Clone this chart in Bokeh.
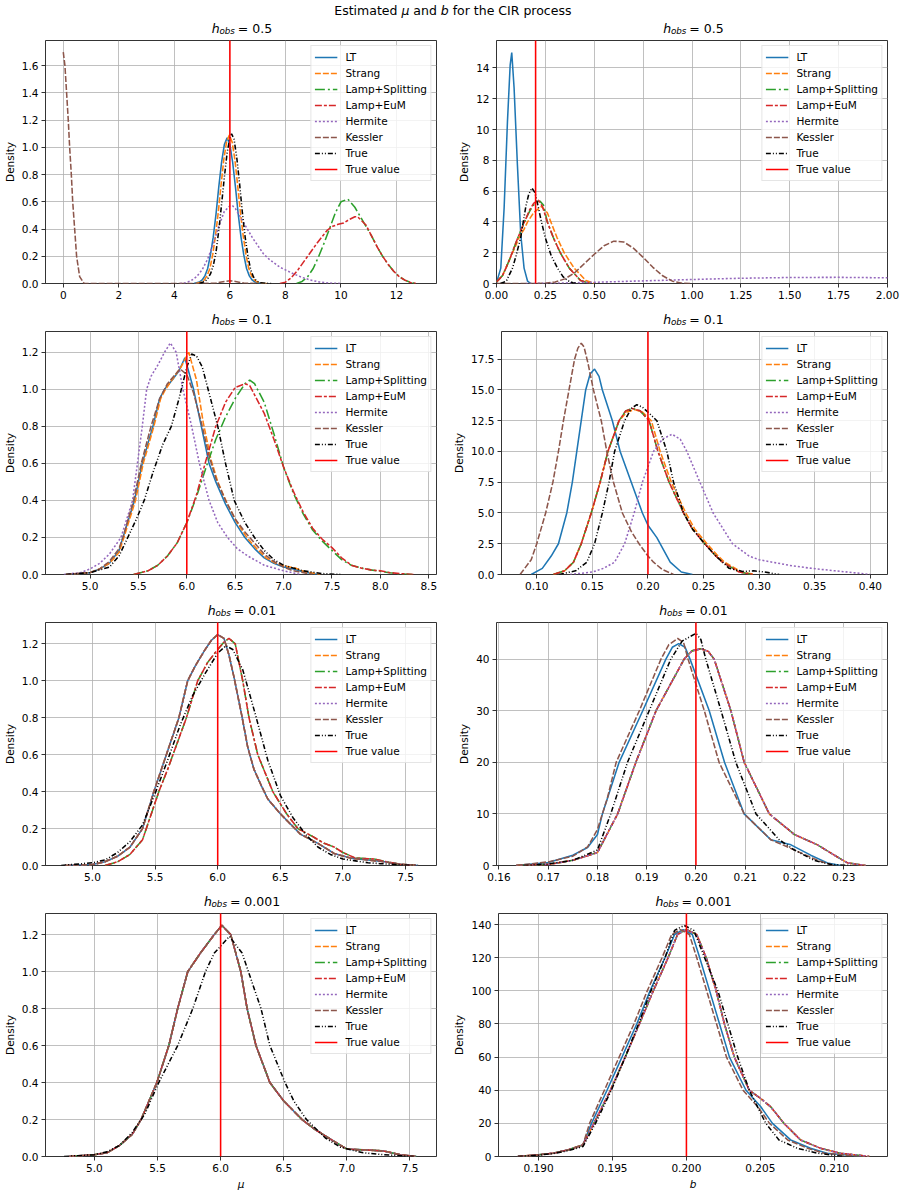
from bokeh.plotting import figure
from bokeh.models import (Range1d, FixedTicker, PrintfTickFormatter, Legend,
                          LegendItem, Label)
from bokeh.layouts import column, row
from bokeh.embed import file_html
from bokeh.resources import INLINE

# ---------------------------------------------------------------- data ----
series_names = ["LT", "Strang", "Lamp+Splitting", "Lamp+EuM", "Hermite", "Kessler", "True"]
true_mu = 6.0
true_b = 0.2
h_obs_labels = ["0.5", "0.1", "0.01", "0.001"]

# --- mu, h_obs = 0.5
mu_h05_LT_x = [4.7, 4.9, 5.0, 5.1, 5.2, 5.3, 5.4, 5.5, 5.6, 5.7, 5.8, 5.9, 6.0, 6.1, 6.2, 6.3, 6.4, 6.5, 6.6, 6.7, 6.8, 6.9, 7.1, 7.3]
mu_h05_LT_y = [0, 0.011, 0.026, 0.056, 0.11, 0.21, 0.34, 0.51, 0.71, 0.89, 1.02, 1.07, 1.02, 0.89, 0.71, 0.51, 0.34, 0.21, 0.11, 0.056, 0.026, 0.011, 0.002, 0]
mu_h05_Strang_x = [4.78, 4.98, 5.08, 5.18, 5.28, 5.38, 5.48, 5.58, 5.68, 5.78, 5.88, 5.98, 6.08, 6.18, 6.28, 6.38, 6.48, 6.58, 6.68, 6.78, 6.88, 6.98, 7.18, 7.38]
mu_h05_Strang_y = [0, 0.011, 0.027, 0.057, 0.11, 0.21, 0.35, 0.52, 0.72, 0.91, 1.04, 1.09, 1.04, 0.91, 0.72, 0.52, 0.35, 0.21, 0.11, 0.057, 0.027, 0.011, 0.002, 0]
mu_h05_Split_x = [8.4, 8.6, 8.8, 9.0, 9.2, 9.4, 9.6, 9.8, 10.0, 10.25, 10.5, 10.7, 10.9, 11.1, 11.3, 11.5, 11.7, 11.9, 12.1, 12.3, 12.5, 12.7]
mu_h05_Split_y = [0, 0.015, 0.05, 0.11, 0.2, 0.3, 0.41, 0.52, 0.6, 0.62, 0.56, 0.49, 0.42, 0.35, 0.27, 0.2, 0.14, 0.09, 0.05, 0.025, 0.008, 0]
mu_h05_EuM_x = [7.8, 8.0, 8.2, 8.45, 8.8, 9.15, 9.5, 9.7, 9.9, 10.1, 10.3, 10.5, 10.6, 10.9, 11.1, 11.3, 11.5, 11.7, 11.9, 12.1, 12.3, 12.5, 12.7]
mu_h05_EuM_y = [0, 0.01, 0.04, 0.1, 0.2, 0.3, 0.39, 0.42, 0.435, 0.445, 0.47, 0.49, 0.49, 0.43, 0.35, 0.27, 0.2, 0.14, 0.09, 0.05, 0.025, 0.008, 0]
mu_h05_Hermite_x = [4.2, 4.4, 4.6, 4.8, 5.0, 5.2, 5.4, 5.6, 5.8, 6.0, 6.1, 6.2, 6.4, 6.6, 6.8, 7.0, 7.2, 7.4, 7.6, 7.8, 8.0, 8.3, 8.6, 8.9, 9.2, 9.6, 10.0]
mu_h05_Hermite_y = [0, 0.005, 0.02, 0.05, 0.1, 0.18, 0.29, 0.42, 0.53, 0.57, 0.57, 0.55, 0.48, 0.41, 0.34, 0.28, 0.22, 0.18, 0.15, 0.12, 0.1, 0.07, 0.045, 0.025, 0.012, 0.003, 0]
mu_h05_Kessler_x = [0.0, 0.06, 0.12, 0.18, 0.23, 0.29, 0.34, 0.41, 0.48, 0.59, 0.75, 1.0, 2.0, 3.0, 4.0, 5.0, 5.5, 5.8, 6.0, 6.2, 6.5, 7.0]
mu_h05_Kessler_y = [1.70, 1.6, 1.4, 1.2, 1.0, 0.8, 0.6, 0.4, 0.2, 0.05, 0.0, 0, 0, 0, 0, 0, 0.003, 0.015, 0.02, 0.015, 0.003, 0]
mu_h05_True_x = [4.9, 5.1, 5.2, 5.3, 5.4, 5.5, 5.6, 5.7, 5.8, 5.9, 6.0, 6.06, 6.15, 6.25, 6.35, 6.45, 6.55, 6.65, 6.75, 6.85, 6.95, 7.1, 7.3, 7.5]
mu_h05_True_y = [0, 0.015, 0.035, 0.07, 0.13, 0.23, 0.39, 0.58, 0.78, 0.96, 1.07, 1.10, 1.06, 0.92, 0.73, 0.52, 0.34, 0.2, 0.1, 0.048, 0.02, 0.005, 0.001, 0]

# --- b, h_obs = 0.5
b_h05_LT_x = [0.0, 0.022, 0.039, 0.056, 0.07, 0.078, 0.09, 0.107, 0.124, 0.141, 0.159, 0.175]
b_h05_LT_y = [0.05, 1.0, 4.9, 10.5, 14.2, 15.0, 12.7, 7.7, 3.2, 1.0, 0.15, 0]
b_h05_Strang_x = [0.0, 0.03, 0.048, 0.065, 0.082, 0.1, 0.116, 0.14, 0.159, 0.19, 0.23, 0.26, 0.278, 0.309, 0.346, 0.397, 0.457, 0.5]
b_h05_Strang_y = [0.1, 0.5, 1.0, 1.5, 2.0, 2.5, 3.0, 3.5, 4.0, 4.6, 5.0, 4.6, 4.0, 3.0, 2.0, 1.0, 0.2, 0]
b_h05_Split_x = [0.0, 0.03, 0.048, 0.065, 0.08, 0.095, 0.11, 0.13, 0.15, 0.17, 0.19, 0.21, 0.222, 0.24, 0.26, 0.29, 0.326, 0.372, 0.43, 0.48]
b_h05_Split_y = [0.1, 0.5, 1.0, 1.5, 2.0, 2.5, 3.0, 3.6, 4.2, 4.7, 5.1, 5.3, 5.35, 5.1, 4.0, 3.0, 2.0, 1.0, 0.2, 0]
b_h05_EuM_x = [0.0, 0.03, 0.048, 0.065, 0.08, 0.095, 0.11, 0.13, 0.15, 0.17, 0.19, 0.205, 0.215, 0.235, 0.26, 0.29, 0.326, 0.372, 0.43, 0.48]
b_h05_EuM_y = [0.1, 0.5, 1.0, 1.5, 2.0, 2.5, 3.0, 3.6, 4.2, 4.8, 5.2, 5.35, 5.4, 5.0, 4.0, 3.0, 2.0, 1.0, 0.2, 0]
b_h05_Hermite_x = [0.15, 0.3, 0.5, 0.75, 1.0, 1.25, 1.5, 1.75, 2.0, 2.1]
b_h05_Hermite_y = [0.0, 0.02, 0.08, 0.17, 0.26, 0.34, 0.39, 0.40, 0.37, 0.36]
b_h05_Kessler_x = [0.0, 0.1, 0.2, 0.25, 0.3, 0.35, 0.4, 0.45, 0.5, 0.55, 0.6, 0.65, 0.7, 0.75, 0.8, 0.85, 0.9, 0.95, 1.0]
b_h05_Kessler_y = [0.0, 0.0, 0.0, 0.02, 0.1, 0.3, 0.7, 1.3, 1.9, 2.45, 2.75, 2.7, 2.3, 1.7, 1.05, 0.5, 0.15, 0.02, 0]
b_h05_True_x = [0.02, 0.05, 0.082, 0.1, 0.124, 0.15, 0.165, 0.181, 0.197, 0.213, 0.23, 0.249, 0.28, 0.312, 0.34, 0.363, 0.39, 0.414]
b_h05_True_y = [0, 0.15, 1.0, 1.8, 3.0, 5.0, 5.8, 6.2, 5.9, 5.0, 4.0, 3.0, 1.8, 1.0, 0.45, 0.2, 0.05, 0]

# --- mu, h_obs = 0.1
mu_h01_LT_x = [4.75, 5.0, 5.1, 5.2, 5.3, 5.34, 5.46, 5.54, 5.65, 5.72, 5.77, 5.85, 5.92, 5.98, 6.07, 6.15, 6.23, 6.3, 6.4, 6.5, 6.6, 6.7, 6.8, 6.9, 7.0, 7.1, 7.2, 7.35]
mu_h01_LT_y = [0, 0.01, 0.03, 0.06, 0.13, 0.2, 0.4, 0.6, 0.8, 0.95, 1.0, 1.05, 1.1, 1.17, 1.0, 0.8, 0.6, 0.5, 0.38, 0.28, 0.2, 0.14, 0.09, 0.06, 0.04, 0.03, 0.015, 0]
mu_h01_Strang_x = [4.75, 5.0, 5.1, 5.2, 5.3, 5.35, 5.47, 5.55, 5.66, 5.73, 5.78, 5.86, 5.94, 6.02, 6.1, 6.17, 6.25, 6.32, 6.42, 6.52, 6.62, 6.72, 6.82, 6.92, 7.02, 7.12, 7.22, 7.38]
mu_h01_Strang_y = [0, 0.01, 0.03, 0.06, 0.12, 0.2, 0.4, 0.6, 0.8, 0.95, 1.0, 1.06, 1.12, 1.2, 1.05, 0.82, 0.62, 0.5, 0.38, 0.28, 0.2, 0.14, 0.09, 0.06, 0.045, 0.035, 0.015, 0]
mu_h01_Lamp_x = [5.45, 5.6, 5.7, 5.8, 5.9, 6.0, 6.1, 6.2, 6.3, 6.4, 6.5, 6.6, 6.65, 6.7, 6.8, 6.9, 7.0, 7.1, 7.2, 7.3, 7.4, 7.5, 7.6, 7.7, 7.8, 7.9, 8.0, 8.1, 8.2, 8.35]
mu_h01_Split_y = [0, 0.02, 0.05, 0.1, 0.17, 0.28, 0.42, 0.58, 0.73, 0.85, 0.95, 1.03, 1.05, 1.03, 0.93, 0.76, 0.58, 0.44, 0.33, 0.24, 0.18, 0.13, 0.08, 0.05, 0.035, 0.025, 0.017, 0.009, 0.003, 0]
mu_h01_EuM_y = [0, 0.02, 0.05, 0.1, 0.17, 0.28, 0.43, 0.62, 0.8, 0.93, 1.01, 1.03, 1.02, 0.97, 0.87, 0.73, 0.58, 0.45, 0.34, 0.25, 0.19, 0.145, 0.09, 0.05, 0.035, 0.025, 0.02, 0.01, 0.005, 0]
mu_h01_Hermite_x = [4.73, 4.9, 5.0, 5.1, 5.2, 5.32, 5.44, 5.49, 5.54, 5.585, 5.63, 5.7, 5.77, 5.83, 5.89, 5.96, 6.05, 6.13, 6.23, 6.32, 6.42, 6.52, 6.63, 6.8, 7.0, 7.18]
mu_h01_Hermite_y = [0, 0.01, 0.03, 0.06, 0.11, 0.2, 0.4, 0.6, 0.8, 1.0, 1.07, 1.13, 1.2, 1.25, 1.2, 1.0, 0.8, 0.6, 0.4, 0.28, 0.2, 0.14, 0.1, 0.05, 0.02, 0]
mu_h01_Kessler_x = [4.75, 5.0, 5.1, 5.2, 5.3, 5.34, 5.45, 5.53, 5.63, 5.72, 5.8, 5.93, 6.0, 6.07, 6.15, 6.23, 6.3, 6.4, 6.5, 6.6, 6.7, 6.8, 6.9, 7.0, 7.1, 7.3]
mu_h01_Kessler_y = [0, 0.01, 0.03, 0.07, 0.14, 0.2, 0.4, 0.6, 0.8, 0.95, 1.03, 1.11, 1.08, 0.98, 0.82, 0.64, 0.52, 0.4, 0.3, 0.23, 0.17, 0.11, 0.07, 0.04, 0.02, 0]
mu_h01_True_x = [4.75, 5.0, 5.2, 5.3, 5.39, 5.48, 5.56, 5.65, 5.75, 5.84, 5.92, 6.0, 6.05, 6.1, 6.16, 6.22, 6.32, 6.4, 6.49, 6.6, 6.7, 6.8, 6.9, 7.0, 7.2, 7.4, 7.6]
mu_h01_True_y = [0, 0.01, 0.04, 0.1, 0.2, 0.3, 0.4, 0.55, 0.7, 0.8, 0.95, 1.12, 1.19, 1.18, 1.12, 1.0, 0.8, 0.6, 0.4, 0.28, 0.2, 0.13, 0.08, 0.05, 0.02, 0.005, 0]

# --- b, h_obs = 0.1
b_h01_LT_x = [0.095, 0.105, 0.113, 0.1195, 0.127, 0.132, 0.136, 0.14, 0.144, 0.148, 0.152, 0.156, 0.159, 0.168, 0.175, 0.185, 0.195, 0.2, 0.208, 0.214, 0.22, 0.23, 0.24]
b_h01_LT_y = [0, 0.5, 1.5, 2.5, 5, 7.5, 10, 12.5, 15, 16.3, 16.7, 16.1, 15, 12.5, 10, 7.5, 5, 4, 3, 2, 1, 0.2, 0]
b_h01_Strang_x = [0.115, 0.125, 0.133, 0.14, 0.149, 0.157, 0.164, 0.174, 0.181, 0.188, 0.195, 0.203, 0.211, 0.221, 0.234, 0.242, 0.253, 0.262, 0.269, 0.284, 0.296]
b_h01_Strang_y = [0, 0.3, 1, 2.5, 5, 7.5, 10, 12.5, 13.2, 13.4, 13.2, 12.5, 10, 7.5, 5, 3.7, 2.5, 1.6, 1, 0.2, 0]
b_h01_Lamp_x = [0.115, 0.125, 0.133, 0.14, 0.149, 0.157, 0.164, 0.174, 0.18, 0.186, 0.193, 0.201, 0.209, 0.219, 0.232, 0.24, 0.251, 0.26, 0.267, 0.282, 0.294]
b_h01_Lamp_y = [0, 0.3, 1, 2.5, 5, 7.5, 10, 12.5, 13.3, 13.5, 13.3, 12.5, 10, 7.5, 5, 3.7, 2.5, 1.6, 1, 0.2, 0]
b_h01_Hermite_x = [0.13, 0.15, 0.16, 0.17, 0.179, 0.1876, 0.195, 0.205, 0.213, 0.2216, 0.229, 0.235, 0.2467, 0.2586, 0.276, 0.291, 0.3, 0.312, 0.33, 0.347, 0.368, 0.385, 0.4]
b_h01_Hermite_y = [0, 0.2, 0.5, 1, 2.5, 5, 7.5, 10, 11.0, 11.4, 11.0, 10, 7.5, 5, 2.5, 1.5, 1.2, 1.0, 0.7, 0.5, 0.3, 0.15, 0]
b_h01_Kessler_x = [0.085, 0.095, 0.1, 0.108, 0.1145, 0.1195, 0.124, 0.129, 0.134, 0.137, 0.14, 0.1425, 0.146, 0.151, 0.158, 0.163, 0.169, 0.177, 0.185, 0.192, 0.2, 0.205, 0.213, 0.223]
b_h01_Kessler_y = [0, 1.2, 2.5, 5, 7.5, 10, 12.5, 15, 17.5, 18.4, 18.8, 18.5, 17.2, 15, 12.5, 10, 7.5, 5, 3.5, 2.5, 1.5, 1.0, 0.4, 0]
b_h01_True_x = [0.12, 0.135, 0.145, 0.152, 0.159, 0.165, 0.17, 0.179, 0.185, 0.19, 0.195, 0.2, 0.208, 0.217, 0.223, 0.232, 0.24, 0.251, 0.26, 0.273, 0.285, 0.295, 0.305, 0.318]
b_h01_True_y = [0, 0.3, 1, 2.5, 5, 7.5, 10, 12.5, 13.5, 13.8, 13.6, 13.2, 12.5, 10, 7.5, 5, 3.7, 2.5, 1.6, 0.5, 0.25, 0.3, 0.2, 0]

# --- mu, h_obs = 0.01
mu_h001_A_x = [4.78, 5.0, 5.1, 5.2, 5.3, 5.4, 5.49, 5.6, 5.69, 5.76, 5.82, 5.9, 5.95, 6.0, 6.05, 6.09, 6.13, 6.19, 6.24, 6.29, 6.35, 6.4, 6.5, 6.66, 6.8, 6.93, 7.06, 7.2, 7.33, 7.46, 7.6]
mu_h001_A_y = [0, 0.005, 0.02, 0.05, 0.1, 0.2, 0.4, 0.62, 0.8, 1.0, 1.08, 1.17, 1.22, 1.25, 1.23, 1.14, 1.02, 0.82, 0.64, 0.52, 0.43, 0.36, 0.28, 0.17, 0.12, 0.065, 0.04, 0.03, 0.02, 0.007, 0]
mu_h001_Lamp_x = [5.1, 5.2, 5.3, 5.4, 5.53, 5.6, 5.75, 5.84, 5.92, 6.0, 6.05, 6.09, 6.14, 6.2, 6.25, 6.32, 6.44, 6.55, 6.64, 6.75, 6.85, 6.93, 7.0, 7.1, 7.25, 7.35, 7.45, 7.55]
mu_h001_Lamp_y = [0, 0.02, 0.06, 0.14, 0.4, 0.52, 0.8, 1.0, 1.1, 1.17, 1.21, 1.23, 1.2, 1.0, 0.8, 0.6, 0.4, 0.28, 0.2, 0.16, 0.12, 0.1, 0.07, 0.04, 0.035, 0.02, 0.007, 0]
mu_h001_True_x = [4.75, 5.0, 5.1, 5.2, 5.3, 5.4, 5.5, 5.6, 5.7, 5.8, 5.9, 6.0, 6.066, 6.12, 6.2, 6.3, 6.4, 6.5, 6.6, 6.7, 6.8, 6.9, 7.0, 7.1, 7.2, 7.3, 7.45, 7.6]
mu_h001_True_y = [0, 0.015, 0.03, 0.07, 0.13, 0.22, 0.39, 0.57, 0.76, 0.92, 1.04, 1.15, 1.19, 1.17, 1.06, 0.82, 0.57, 0.38, 0.26, 0.17, 0.1, 0.06, 0.035, 0.025, 0.015, 0.01, 0.004, 0]

# --- b, h_obs = 0.01
b_h001_LT_x = [0.1635, 0.17, 0.175, 0.178, 0.18, 0.181, 0.1844, 0.1892, 0.1939, 0.1952, 0.1965, 0.1978, 0.1988, 0.2027, 0.2058, 0.2098, 0.2152, 0.2193, 0.2233, 0.2267, 0.2294]
b_h001_LT_y = [0, 0.6, 2, 3.5, 6, 10, 20, 30, 40, 42.3, 43, 42.3, 40, 30, 20, 10, 5, 4, 2, 0.5, 0]
b_h001_Lamp_x = [0.1635, 0.17, 0.175, 0.18, 0.1841, 0.1878, 0.1919, 0.1976, 0.1992, 0.201, 0.2025, 0.2037, 0.2071, 0.2098, 0.2149, 0.22, 0.2247, 0.2281, 0.2308, 0.2345]
b_h001_Lamp_y = [0, 0.2, 1, 2.5, 10, 20, 30, 40, 41.6, 42, 41.5, 40, 30, 20, 10, 6, 4, 2, 0.5, 0]
b_h001_Kessler_x = [0.1635, 0.17, 0.175, 0.178, 0.18, 0.182, 0.1838, 0.1885, 0.1929, 0.1945, 0.1963, 0.1975, 0.1984, 0.2017, 0.2047, 0.2098, 0.2152, 0.22, 0.2247, 0.228]
b_h001_Kessler_y = [0, 0.7, 1.8, 3.6, 7, 13, 20, 30, 40, 42.8, 44, 43.2, 40, 30, 20, 10, 5, 3, 1, 0]
b_h001_True_x = [0.165, 0.17, 0.175, 0.18, 0.1827, 0.1861, 0.1905, 0.1949, 0.1972, 0.2, 0.201, 0.202, 0.2051, 0.2081, 0.2122, 0.2169, 0.22, 0.224, 0.2274, 0.2315]
b_h001_True_y = [0, 0.3, 1, 3, 10, 20, 30, 40, 43.5, 45, 43.8, 40, 30, 20, 10, 5, 3, 1, 0.2, 0]

# --- mu, h_obs = 0.001
mu_h0001_A_x = [4.8, 5.0, 5.1, 5.2, 5.3, 5.37, 5.495, 5.59, 5.66, 5.74, 5.84, 5.95, 6.01, 6.08, 6.16, 6.21, 6.28, 6.39, 6.5, 6.645, 6.74, 6.855, 7.0, 7.16, 7.29, 7.42, 7.55]
mu_h0001_A_y = [0, 0.01, 0.02, 0.06, 0.12, 0.2, 0.4, 0.6, 0.8, 1.0, 1.1, 1.2, 1.25, 1.2, 1.0, 0.8, 0.6, 0.4, 0.3, 0.2, 0.15, 0.1, 0.04, 0.035, 0.03, 0.01, 0]
mu_h0001_True_x = [4.76, 5.0, 5.1, 5.2, 5.3, 5.4, 5.51, 5.66, 5.78, 5.88, 5.95, 6.07, 6.17, 6.22, 6.32, 6.39, 6.51, 6.58, 6.68, 6.83, 6.95, 7.13, 7.29, 7.53]
mu_h0001_True_y = [0, 0.01, 0.025, 0.06, 0.13, 0.23, 0.4, 0.6, 0.8, 1.0, 1.1, 1.19, 1.1, 1.0, 0.8, 0.6, 0.4, 0.3, 0.2, 0.1, 0.05, 0.02, 0.01, 0]

# --- b, h_obs = 0.001
b_h0001_LT_x = [0.1886, 0.19, 0.191, 0.192, 0.193, 0.19358, 0.19463, 0.19564, 0.19664, 0.19754, 0.19855, 0.1992, 0.19978, 0.2004, 0.2009, 0.20157, 0.20224, 0.20291, 0.20403, 0.20503, 0.20582, 0.20705, 0.20839, 0.20951, 0.21197]
b_h0001_LT_y = [0, 1, 2, 4, 7, 20, 40, 60, 80, 100, 120, 134, 137, 134, 120, 100, 80, 60, 40, 30, 20, 10, 5, 2, 0]
b_h0001_Kessler_x = [0.1886, 0.19, 0.191, 0.192, 0.193, 0.19345, 0.19445, 0.19545, 0.19645, 0.19735, 0.19835, 0.199, 0.1996, 0.2002, 0.2007, 0.20137, 0.20204, 0.20271, 0.20383, 0.20483, 0.20562, 0.20685, 0.20819, 0.20931, 0.2118]
b_h0001_Kessler_y = [0, 1, 2, 4, 7, 20, 40, 60, 80, 100, 120, 134, 137, 134, 120, 100, 80, 60, 40, 30, 20, 10, 5, 2, 0]
b_h0001_Lamp_x = [0.1886, 0.19, 0.191, 0.192, 0.193, 0.19374, 0.19486, 0.19586, 0.19682, 0.19776, 0.19876, 0.1994, 0.2, 0.2007, 0.20134, 0.20201, 0.20257, 0.20324, 0.20425, 0.20503, 0.2057, 0.2066, 0.20772, 0.20906, 0.2104, 0.21237]
b_h0001_Lamp_y = [0, 1, 2, 4, 7, 20, 40, 60, 80, 100, 120, 134, 137, 134, 120, 100, 80, 60, 40, 35, 30, 20, 10, 5, 2, 0]
b_h0001_True_x = [0.1886, 0.19, 0.191, 0.192, 0.193, 0.19385, 0.19492, 0.19586, 0.19676, 0.1976, 0.19855, 0.1992, 0.19985, 0.2005, 0.20123, 0.20213, 0.2028, 0.20347, 0.20425, 0.20537, 0.20626, 0.20749, 0.20884, 0.21063]
b_h0001_True_y = [0, 0.8, 1.8, 3.5, 6, 20, 40, 60, 80, 100, 120, 136.5, 139.5, 136.5, 120, 100, 80, 60, 40, 20, 10, 5, 2, 0]

# axis ticks
ticks_mu_h05 = [0, 2, 4, 6, 8, 10, 12]
ticks_b_h05 = [0.0, 0.25, 0.5, 0.75, 1.0, 1.25, 1.5, 1.75, 2.0]
ticks_mu_h01 = [5.0, 5.5, 6.0, 6.5, 7.0, 7.5, 8.0, 8.5]
ticks_b_h01 = [0.10, 0.15, 0.20, 0.25, 0.30, 0.35, 0.40]
ticks_mu_small = [5.0, 5.5, 6.0, 6.5, 7.0, 7.5]
ticks_b_h001 = [0.16, 0.17, 0.18, 0.19, 0.20, 0.21, 0.22, 0.23]
ticks_b_h0001 = [0.190, 0.195, 0.200, 0.205, 0.210]
yticks_dens_small = [0.0, 0.2, 0.4, 0.6, 0.8, 1.0, 1.2]
yticks_mu_h05 = [0.0, 0.2, 0.4, 0.6, 0.8, 1.0, 1.2, 1.4, 1.6]
yticks_b_h05 = [0, 2, 4, 6, 8, 10, 12, 14]
yticks_b_h01 = [0.0, 2.5, 5.0, 7.5, 10.0, 12.5, 15.0, 17.5]
yticks_b_h001 = [0, 10, 20, 30, 40]
yticks_b_h0001 = [0, 20, 40, 60, 80, 100, 120, 140]

# ------------------------------------------------------------- styling ----
FONT = "DejaVu Sans"
COLORS = {"LT": "#1f77b4", "Strang": "#ff7f0e", "Lamp+Splitting": "#2ca02c",
          "Lamp+EuM": "#d62728", "Hermite": "#9467bd", "Kessler": "#8c564b",
          "True": "#000000"}
DASHES = {"LT": "solid", "Strang": "6 2", "Lamp+Splitting": "10 3 2 3",
          "Lamp+EuM": "7 2 3 2", "Hermite": "2 2", "Kessler": "6 2",
          "True": "5 2 1 2 1 2"}
LW = 1.55
W_LEFT, W_RIGHT = 450, 455
BL_LEFT, BR_LEFT = 44, 14
BL_RIGHT, BR_RIGHT = 46, 18
FRAME_H = 243
BASE_FIX = 5.5   # rendered baseline sits lower than requested; compensate
CHAR_W = {"=": 0.838, " ": 0.318, ".": 0.318}


def text_w(s, size):
    return sum(CHAR_W.get(c, 0.636) for c in s) * size


def label(fig, x, y, text, size="12.5px", style="normal"):
    fig.add_layout(Label(x=x, y=y + BASE_FIX, text=text, text_font=FONT, text_font_size=size,
                         text_font_style=style, text_color="black",
                         text_baseline="alphabetic", text_align="left"))


def strip(height, titles, base_y, suptitle=None):
    s = figure(width=905, height=height, x_range=Range1d(0, 905), y_range=Range1d(0, height),
               output_backend="svg", toolbar_location=None, title=None,
               x_axis_location=None, y_axis_location=None, min_border=0)
    s.outline_line_color = None
    s.grid.visible = False
    s.background_fill_color = "white"
    s.border_fill_color = "white"
    centers = [(BL_LEFT + W_LEFT - BR_LEFT) / 2,
               W_LEFT + (BL_RIGHT + W_RIGHT - BR_RIGHT) / 2]
    for xc in centers:
        eq = "= " + titles
        W = 26 + text_w(eq, 12.5)
        x0 = xc - W / 2 + 1.5
        label(s, x0, base_y, "h", style="italic")
        label(s, x0 + 7.6, base_y - 2.8, "obs", size="8.75px", style="italic")
        label(s, x0 + 26, base_y, eq)
    if suptitle:
        for txt, xpos, style in suptitle:
            label(s, xpos, height - 15.5, txt, style=style)
    return s


def make_panel(spec, width, left_b, right_b, bottom_b):
    xr, yr = spec["xr"], spec["yr"]
    p = figure(width=width, height=2 + FRAME_H + bottom_b, x_range=Range1d(*xr),
               y_range=Range1d(*yr), output_backend="svg", toolbar_location=None,
               title=None, min_border_left=left_b, min_border_right=right_b,
               min_border_top=2, min_border_bottom=bottom_b)
    p.background_fill_color = "white"
    p.border_fill_color = "white"
    p.outline_line_color = "black"
    p.outline_line_width = 0.8
    p.grid.grid_line_color = "#b0b0b0"
    p.grid.grid_line_width = 0.8
    p.xaxis.ticker = FixedTicker(ticks=spec["xt"])
    p.yaxis.ticker = FixedTicker(ticks=spec["yt"])
    p.xaxis.formatter = PrintfTickFormatter(format=spec["xf"])
    p.yaxis.formatter = PrintfTickFormatter(format=spec["yf"])
    for ax in (p.xaxis[0], p.yaxis[0]):
        ax.axis_line_color = None
        ax.major_tick_line_color = "black"
        ax.major_tick_line_width = 0.8
        ax.major_tick_out = 4
        ax.major_tick_in = 0
        ax.minor_tick_line_color = None
        ax.major_label_text_font = FONT
        ax.major_label_text_font_size = "10.5px"
        ax.major_label_text_color = "black"
        ax.major_label_standoff = 3
        ax.axis_label_text_font = FONT
        ax.axis_label_text_font_size = "10.5px"
        ax.axis_label_text_color = "black"
        ax.axis_label_standoff = 3
    p.yaxis.axis_label = "Density"
    p.yaxis.axis_label_text_font_style = "normal"
    if spec.get("xlabel"):
        p.xaxis.axis_label = spec["xlabel"]
        p.xaxis.axis_label_text_font_style = "italic"

    items = []
    for name in series_names:
        xs, ys = spec["curves"][name]
        r = p.line(xs, ys, line_color=COLORS[name], line_width=LW,
                   line_dash=DASHES[name])
        items.append(LegendItem(label=name, renderers=[r]))
    tv = spec["tv"]
    span = yr[1] - yr[0]
    r = p.line([tv, tv], [yr[0] - span, yr[1] + span], line_color="#ff0000", line_width=LW)
    items.append(LegendItem(label="True value", renderers=[r]))

    leg = Legend(items=items, location="top_right")
    leg.label_text_font = FONT
    leg.label_text_font_size = "10.5px"
    leg.label_text_color = "black"
    leg.glyph_width = 23
    leg.glyph_height = 16
    leg.label_height = 16
    leg.spacing = 0
    leg.padding = 3
    leg.label_standoff = 8
    leg.margin = 5
    leg.border_line_color = "#cccccc"
    leg.border_line_width = 1
    leg.background_fill_alpha = 0.8
    p.add_layout(leg)
    return p


def curves(LT, Strang, Split, EuM, Hermite, Kessler, True_):
    return {"LT": LT, "Strang": Strang, "Lamp+Splitting": Split, "Lamp+EuM": EuM,
            "Hermite": Hermite, "Kessler": Kessler, "True": True_}


specs = [
    dict(xr=(-0.64, 13.44), yr=(0, 1.785), xt=ticks_mu_h05, xf="%d", yt=yticks_mu_h05, yf="%.1f",
         tv=true_mu,
         curves=curves((mu_h05_LT_x, mu_h05_LT_y), (mu_h05_Strang_x, mu_h05_Strang_y),
                       (mu_h05_Split_x, mu_h05_Split_y), (mu_h05_EuM_x, mu_h05_EuM_y),
                       (mu_h05_Hermite_x, mu_h05_Hermite_y), (mu_h05_Kessler_x, mu_h05_Kessler_y),
                       (mu_h05_True_x, mu_h05_True_y))),
    dict(xr=(0, 2), yr=(0, 15.78), xt=ticks_b_h05, xf="%.2f", yt=yticks_b_h05, yf="%d",
         tv=true_b,
         curves=curves((b_h05_LT_x, b_h05_LT_y), (b_h05_Strang_x, b_h05_Strang_y),
                       (b_h05_Split_x, b_h05_Split_y), (b_h05_EuM_x, b_h05_EuM_y),
                       (b_h05_Hermite_x, b_h05_Hermite_y), (b_h05_Kessler_x, b_h05_Kessler_y),
                       (b_h05_True_x, b_h05_True_y))),
    dict(xr=(4.54, 8.58), yr=(0, 1.312), xt=ticks_mu_h01, xf="%.1f", yt=yticks_dens_small, yf="%.1f",
         tv=true_mu,
         curves=curves((mu_h01_LT_x, mu_h01_LT_y), (mu_h01_Strang_x, mu_h01_Strang_y),
                       (mu_h01_Lamp_x, mu_h01_Split_y), (mu_h01_Lamp_x, mu_h01_EuM_y),
                       (mu_h01_Hermite_x, mu_h01_Hermite_y), (mu_h01_Kessler_x, mu_h01_Kessler_y),
                       (mu_h01_True_x, mu_h01_True_y))),
    dict(xr=(0.0683, 0.4154), yr=(0, 19.75), xt=ticks_b_h01, xf="%.2f", yt=yticks_b_h01, yf="%.1f",
         tv=true_b,
         curves=curves((b_h01_LT_x, b_h01_LT_y), (b_h01_Strang_x, b_h01_Strang_y),
                       (b_h01_Lamp_x, b_h01_Lamp_y), (b_h01_Lamp_x, b_h01_Lamp_y),
                       (b_h01_Hermite_x, b_h01_Hermite_y), (b_h01_Kessler_x, b_h01_Kessler_y),
                       (b_h01_True_x, b_h01_True_y))),
    dict(xr=(4.625, 7.747), yr=(0, 1.316), xt=ticks_mu_small, xf="%.1f", yt=yticks_dens_small, yf="%.1f",
         tv=true_mu,
         curves=curves((mu_h001_A_x, mu_h001_A_y), (mu_h001_A_x, mu_h001_A_y),
                       (mu_h001_Lamp_x, mu_h001_Lamp_y), (mu_h001_Lamp_x, mu_h001_Lamp_y),
                       (mu_h001_A_x, mu_h001_A_y), (mu_h001_A_x, mu_h001_A_y),
                       (mu_h001_True_x, mu_h001_True_y))),
    dict(xr=(0.1595, 0.2389), yr=(0, 47.1), xt=ticks_b_h001, xf="%.2f", yt=yticks_b_h001, yf="%d",
         tv=true_b,
         curves=curves((b_h001_LT_x, b_h001_LT_y), (b_h001_Lamp_x, b_h001_Lamp_y),
                       (b_h001_Lamp_x, b_h001_Lamp_y), (b_h001_Lamp_x, b_h001_Lamp_y),
                       (b_h001_Lamp_x, b_h001_Lamp_y), (b_h001_Kessler_x, b_h001_Kessler_y),
                       (b_h001_True_x, b_h001_True_y))),
    dict(xr=(4.613, 7.71), yr=(0, 1.314), xt=ticks_mu_small, xf="%.1f", yt=yticks_dens_small, yf="%.1f",
         tv=true_mu, xlabel="μ",
         curves=curves((mu_h0001_A_x, mu_h0001_A_y), (mu_h0001_A_x, mu_h0001_A_y),
                       (mu_h0001_A_x, mu_h0001_A_y), (mu_h0001_A_x, mu_h0001_A_y),
                       (mu_h0001_A_x, mu_h0001_A_y), (mu_h0001_A_x, mu_h0001_A_y),
                       (mu_h0001_True_x, mu_h0001_True_y))),
    dict(xr=(0.18729, 0.2136), yr=(0, 146.7), xt=ticks_b_h0001, xf="%.3f", yt=yticks_b_h0001, yf="%d",
         tv=true_b, xlabel="b",
         curves=curves((b_h0001_LT_x, b_h0001_LT_y), (b_h0001_Lamp_x, b_h0001_Lamp_y),
                       (b_h0001_Lamp_x, b_h0001_Lamp_y), (b_h0001_Lamp_x, b_h0001_Lamp_y),
                       (b_h0001_Lamp_x, b_h0001_Lamp_y), (b_h0001_Kessler_x, b_h0001_Kessler_y),
                       (b_h0001_True_x, b_h0001_True_y))),
]

suptitle = [("Estimated", 333.8, "normal"), ("μ", 400.9, "italic"), ("and", 412.8, "normal"),
            ("b", 440.3, "italic"), ("for the CIR process", 452.2, "normal")]

children = []
for i in range(4):
    last = i == 3
    if i == 0:
        children.append(strip(38, h_obs_labels[0], 4.5, suptitle))
    else:
        children.append(strip(20, h_obs_labels[i], 4.5))
    bb = 39 if last else 26
    left = make_panel(specs[2 * i], W_LEFT, BL_LEFT, BR_LEFT, bb)
    right = make_panel(specs[2 * i + 1], W_RIGHT, BL_RIGHT, BR_RIGHT, bb)
    children.append(row(left, right))

layout = column(*children)

open("out.html", "w").write(file_html(layout, INLINE))
